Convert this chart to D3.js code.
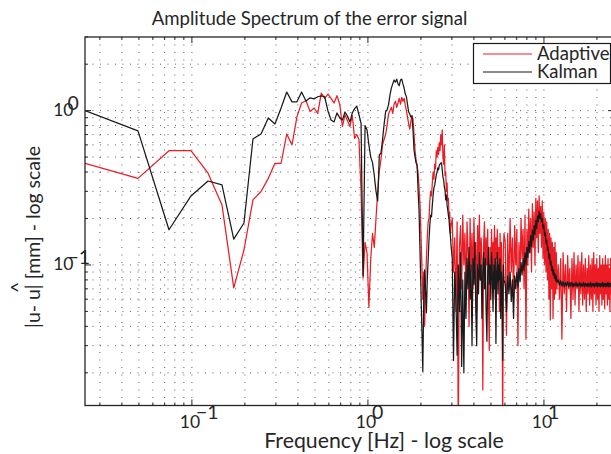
<!DOCTYPE html>
<html><head><meta charset="utf-8">
<script src="https://cdn.jsdelivr.net/npm/d3@7/dist/d3.min.js"></script>
<style>
body{margin:0;background:#fff;}
svg{display:block;font-family:Lato,"Open Sans",sans-serif;}
</style>
</head><body>
<svg id="chart" width="611" height="454"></svg>
<script>
// ---------------- DATA ----------------
const seriesNames = ["Adaptive", "Kalman"];
const seriesColors = ["#ec1c24", "#1a1a1a"];
const binWidthHz = 0.0247;           // FFT bin spacing [Hz]
// which FFT bins each block of values belongs to (first bin, bin step)
const blocks = [{first: 1, step: 1}, {first: 122, step: 2}, {first: 244, step: 4}, {first: 488, step: 8}];

// |u - u^| [mm], Adaptive
const adaptiveLow = [0.456,0.364,0.55,0.55,0.393,0.245,0.071,0.125,0.264,0.299,
  0.364,0.456,0.456,0.706,0.6,0.915,1.12,1.16,0.985,1.04,
  0.96,1.3,1.2,1.28,1.2,1.12,1.25,1.1,0.79,0.94,
  0.86,0.79,0.93,0.66,0.7,0.65,0.3,0.082,0.14,0.12,
  0.053,0.11,0.16,0.13,0.2,0.3,0.41,0.48,0.6,0.65,
  0.7,0.8,0.95,1.0,1.05,0.96,1.1,1.15,1.05,1.12,
  1.2,1.1,1.22,1.15,1.2,1.08,1.0,0.9,0.82,0.76,
  0.85,0.93,0.88,0.7,0.55,0.48,0.44,0.4,0.32,0.25,
  0.16,0.1,0.06,0.09,0.04,0.075,0.11,0.15,0.19,0.2,
  0.26,0.3,0.28,0.34,0.4,0.36,0.45,0.42,0.55,0.5,
  0.58,0.52,0.62,0.55,0.7,0.6,0.75,0.5,0.45,0.6,
  0.38,0.4,0.3,0.34,0.26,0.27,0.2,0.22,0.16,0.18];
const adaptiveMid = [0.2,0.09,0.15,0.05,0.19,0.008,0.13,0.18,0.07,0.21,
  0.1,0.16,0.06,0.19,0.12,0.04,0.2,0.09,0.16,0.07,
  0.2,0.11,0.14,0.05,0.18,0.1,0.21,0.08,0.15,0.11,
  0.0155,0.14,0.19,0.07,0.15,0.1,0.17,0.06,0.028,0.13,
  0.09,0.17,0.07,0.14,0.1,0.18,0.06,0.15,0.11,0.17,
  0.08,0.13,0.05,0.16,0.09,0.14,0.07,0.008,0.12,0.16];
const adaptiveHigh = [0.14,0.035,0.16,0.07,0.2,0.09,0.15,0.06,0.18,0.1,
  0.17,0.03,0.14,0.08,0.2,0.11,0.17,0.07,0.21,0.033,
  0.17,0.1,0.23,0.12,0.2,0.09,0.25,0.13,0.22,0.1,
  0.27,0.15,0.26,0.12,0.28,0.16,0.24,0.13,0.26,0.11,
  0.22,0.1,0.2,0.09,0.19,0.08,0.17,0.06,0.16,0.044,
  0.15,0.07,0.14,0.045,0.13,0.06,0.14,0.065,0.12,0.07];
const adaptiveTail = [0.1,0.06,0.11,0.033,0.12,0.065,0.1,0.05,0.115,0.07,0.095,
  0.045,0.11,0.06,0.12,0.055,0.1,0.07,0.115,0.05,0.105,0.065,
  0.12,0.055,0.1,0.06,0.11,0.05,0.095,0.065,0.115,0.055,0.1,
  0.06,0.11,0.05,0.12,0.065,0.1,0.055,0.11,0.06,0.095,0.05,
  0.115,0.065,0.1,0.055,0.11,0.06,0.1,0.052,0.115,0.065,0.1,
  0.055,0.11,0.06,0.095,0.05,0.11,0.065,0.1,0.055,0.105,0.06];

// |u - u^| [mm], Kalman
const kalmanLow = [1.0,0.739,0.169,0.28,0.35,0.33,0.147,0.187,0.655,0.706,
  0.897,0.82,1.04,1.32,1.14,1.14,1.32,1.155,1.21,1.19,
  1.23,1.245,1.23,0.995,0.87,0.845,0.966,0.897,0.87,0.98,
  0.92,0.845,0.966,1.03,1.07,0.94,0.83,0.085,0.8,0.75,
  0.6,0.5,0.46,0.38,0.3,0.26,0.516,0.53,0.646,0.81,
  0.98,1.01,1.09,1.26,1.4,1.49,1.58,1.53,1.6,1.49,
  1.45,1.58,1.6,1.49,1.4,1.28,1.23,1.09,0.98,0.95,
  0.91,0.92,0.75,0.556,0.5,0.458,0.445,0.306,0.227,0.125,
  0.069,0.038,0.0204,0.059,0.093,0.069,0.049,0.08,0.108,0.145,
  0.182,0.21,0.205,0.245,0.284,0.316,0.33,0.356,0.383,0.4,
  0.425,0.413,0.445,0.45,0.458,0.458,0.413,0.372,0.356,0.32,
  0.306,0.264,0.284,0.245,0.227,0.21,0.196,0.169,0.156,0.135];
const kalmanMid = [0.11,0.024,0.09,0.06,0.026,0.1,0.05,0.12,0.022,0.08,
  0.02,0.09,0.045,0.11,0.07,0.13,0.06,0.1,0.03,0.11,
  0.075,0.14,0.05,0.03,0.1,0.065,0.12,0.08,0.1,0.045,
  0.09,0.12,0.07,0.11,0.05,0.032,0.09,0.13,0.075,0.1,
  0.06,0.12,0.085,0.05,0.1,0.07,0.11,0.031,0.09,0.12,
  0.065,0.1,0.08,0.11,0.045,0.09,0.07,0.024,0.1,0.08];
const kalmanHigh = [0.075,0.05,0.085,0.065,0.09,0.058,0.08,0.045,0.085,0.07,
  0.09,0.072,0.095,0.078,0.104,0.086,0.11,0.092,0.12,0.1,
  0.13,0.112,0.142,0.12,0.155,0.132,0.168,0.145,0.18,0.158,
  0.195,0.172,0.208,0.19,0.222,0.2,0.215,0.19,0.2,0.172,
  0.182,0.155,0.162,0.138,0.145,0.124,0.13,0.11,0.118,0.1,
  0.106,0.092,0.098,0.086,0.093,0.082,0.088,0.079,0.085,0.077];
const kalmanTail = [0.08,0.074,0.079,0.073,0.078,0.072,0.077,0.073,0.078,0.072,0.077,
  0.073,0.077,0.072,0.076,0.073,0.077,0.072,0.076,0.073,0.077,0.072,
  0.076,0.073,0.077,0.072,0.076,0.073,0.076,0.072,0.076,0.073,0.077,
  0.072,0.076,0.073,0.076,0.072,0.076,0.073,0.077,0.072,0.076,0.073,
  0.076,0.072,0.076,0.073,0.077,0.072,0.076,0.073,0.076,0.072,0.076,
  0.073,0.077,0.072,0.076,0.073,0.076,0.072,0.076,0.073,0.077,0.074];

const xTickValues = [0.1, 1, 10];
const xTickExponents = ["\u22121", "0", "1"];
const yTickValues = [0.1, 1];
const yTickExponents = ["\u22121", "0"];
const titleText = "Amplitude Spectrum of the error signal";
const xLabelText = "Frequency [Hz] - log scale";
const yLabelText = "|u- u| [mm] - log scale";

// ---------------- BUILD ----------------
function buildSeries(parts) {
  const pts = [];
  parts.forEach((vals, b) => {
    vals.forEach((v, i) => pts.push({f: (blocks[b].first + blocks[b].step * i) * binWidthHz, v: v}));
  });
  return pts;
}
const series = [
  buildSeries([adaptiveLow, adaptiveMid, adaptiveHigh, adaptiveTail]),
  buildSeries([kalmanLow, kalmanMid, kalmanHigh, kalmanTail])
];

const L = 85, R = 614, T = 37, B = 405.5;
const x = d3.scaleLog().domain([0.0247, 25]).range([L, R]);
const y = d3.scaleLog().domain([0.01228, 3]).range([B, T]);

const svg = d3.select("#chart");
svg.append("rect").attr("width", 611).attr("height", 454).attr("fill", "#fff");

svg.append("defs").append("clipPath").attr("id", "clip")
  .append("rect").attr("x", L).attr("y", T).attr("width", R - L).attr("height", B - T);

// grid
const grid = svg.append("g").attr("stroke", "#333").attr("stroke-width", 0.9)
  .attr("stroke-dasharray", "1,6.5").attr("opacity", 0.85);
x.ticks().forEach(t => {
  if (x(t) > L + 1 && x(t) < R - 1)
    grid.append("line").attr("x1", x(t)).attr("x2", x(t)).attr("y1", B).attr("y2", T);
});
y.ticks().forEach(t => {
  if (y(t) > T + 1 && y(t) < B - 1)
    grid.append("line").attr("y1", y(t)).attr("y2", y(t)).attr("x1", L).attr("x2", R);
});

// ticks (inward, all four sides)
const tk = svg.append("g").attr("stroke", "#262626").attr("stroke-width", 1);
x.ticks().forEach(t => {
  const major = xTickValues.includes(t);
  const len = major ? 6 : 3;
  tk.append("line").attr("x1", x(t)).attr("x2", x(t)).attr("y1", B).attr("y2", B - len);
  tk.append("line").attr("x1", x(t)).attr("x2", x(t)).attr("y1", T).attr("y2", T + len);
});
y.ticks().forEach(t => {
  const major = yTickValues.includes(t);
  const len = major ? 6 : 3;
  tk.append("line").attr("y1", y(t)).attr("y2", y(t)).attr("x1", L).attr("x2", L + len);
  tk.append("line").attr("y1", y(t)).attr("y2", y(t)).attr("x1", R).attr("x2", R - len);
});

// lines
const line = d3.line().x(d => x(d.f)).y(d => y(d.v));
const plot = svg.append("g").attr("clip-path", "url(#clip)");
series.forEach((s, i) => {
  plot.append("path").datum(s).attr("d", line).attr("fill", "none")
    .attr("stroke", seriesColors[i]).attr("stroke-width", 1.25).attr("stroke-linejoin", "round");
});

// axes box
svg.append("rect").attr("x", L).attr("y", T).attr("width", R - L).attr("height", B - T)
  .attr("fill", "none").attr("stroke", "#262626").attr("stroke-width", 1.3);

// tick labels
const lab = svg.append("g").attr("fill", "#262626");
xTickValues.forEach((v, i) => {
  const cx = x(v) - 2;
  const base = lab.append("text").attr("x", cx).attr("y", 428).attr("text-anchor", "middle")
    .attr("font-size", 17.5).text("10");
  const w = base.node().getComputedTextLength();
  lab.append("text").attr("x", cx + w / 2 - 4).attr("y", 419).attr("font-size", 19.5).text(xTickExponents[i]);
});
yTickValues.forEach((v, i) => {
  const ty = y(v);
  lab.append("text").attr("x", 73.5).attr("y", ty + 5.5).attr("text-anchor", "end")
    .attr("font-size", 17.5).text("10");
  lab.append("text").attr("x", 67.5).attr("y", ty - 1).attr("font-size", 19.5).text(yTickExponents[i]);
});

// title & labels
svg.append("text").attr("x", 309.5).attr("y", 25).attr("text-anchor", "middle")
  .attr("font-size", 18.6).attr("fill", "#262626").text(titleText);
svg.append("text").attr("x", 384).attr("y", 448).attr("text-anchor", "middle")
  .attr("font-size", 21.3).attr("fill", "#262626").text(xLabelText);

const yl = svg.append("g").attr("transform", "translate(40,328) rotate(-90)");
const ylt = yl.append("text").attr("x", 0).attr("y", 0).attr("font-size", 19.5)
  .attr("fill", "#262626").attr("text-anchor", "start").text(yLabelText);
const hatPos = ylt.node().getSubStringLength(0, 6);
yl.append("text").attr("x", hatPos - 3).attr("y", -15).attr("font-size", 19.5)
  .attr("fill", "#262626").attr("text-anchor", "middle").text("^");

// legend
const lg = svg.append("g");
lg.append("rect").attr("x", 473.5).attr("y", 43.5).attr("width", 137).attr("height", 40)
  .attr("fill", "#fff").attr("stroke", "#1a1a1a").attr("stroke-width", 1.2);
seriesNames.forEach((n, i) => {
  const ly = 54 + i * 18;
  lg.append("line").attr("x1", 483).attr("x2", 532).attr("y1", ly).attr("y2", ly)
    .attr("stroke", seriesColors[i]).attr("stroke-width", 1.1);
  lg.append("text").attr("x", 537).attr("y", ly + 6).attr("font-size", 18.5)
    .attr("fill", "#262626").text(n);
});
</script>
</body></html>
